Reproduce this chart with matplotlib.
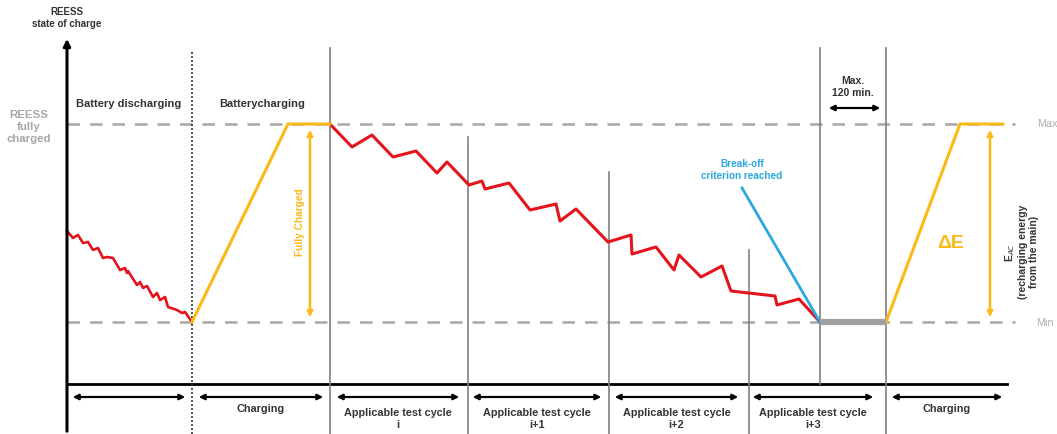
import numpy as np
import matplotlib.pyplot as plt

plt.rcParams['font.family'] = ['Liberation Sans', 'DejaVu Sans']

# levels (picture units, y grows downward)
y_max = 124
y_min = 322

# battery discharging trace
dis_x = [67, 73, 78, 83, 88, 93, 98, 103, 107, 113, 120, 125, 127, 128, 137, 140, 143, 147,
         153, 157, 160, 165, 168, 177, 182, 185, 192]
dis_y = [231, 238, 235, 243, 242, 250, 248, 258, 257, 258, 270, 268, 273, 271, 285, 282, 288, 286,
         297, 293, 300, 297, 307, 310, 313, 312, 322]

# first charge
chg1_x = [192, 288, 330]
chg1_y = [322, 124, 124]

# test cycles trace
cyc_x = [330, 352, 372, 393, 416, 437, 447, 469, 482, 485, 509, 530, 556, 560, 576, 608, 631, 632,
         656, 674, 679, 701, 722, 731, 775, 777, 799, 820]
cyc_y = [124, 147, 135, 157, 151, 173, 162, 185, 181, 189, 183, 210, 204, 221, 209, 242, 235, 254,
         247, 270, 255, 277, 266, 291, 296, 305, 299, 322]

# break-off line
brk_x = [742, 820]
brk_y = [188, 322]

# second charge
chg2_x = [886, 960, 1003]
chg2_y = [322, 124, 124]

# vertical separators: x, top
sep_x = [330, 468, 609, 749, 820, 886]
sep_top = [48, 137, 172, 250, 48, 48]

# bottom phase arrows
phase_x0 = [70, 196, 334, 470, 612, 750, 889]
phase_x1 = [188, 326, 462, 604, 741, 876, 1005]
phase_lbl = ["", "Charging", "Applicable test cycle\ni", "Applicable test cycle\ni+1",
             "Applicable test cycle\ni+2", "Applicable test cycle\ni+3", "Charging"]

red = '#E3141B'
yel = '#FBB917'
blue = '#2BA8DE'
grey = '#A6A6A6'

fig = plt.figure(figsize=(10.57, 4.34), dpi=100)
ax = fig.add_axes([0, 0, 1, 1])
ax.set_xlim(0, 1057)
ax.set_ylim(434, 0)
ax.axis('off')

# dashed max/min
ax.plot([67, 1015], [y_max, y_max], color=grey, lw=1.8, dashes=(5, 4))
ax.plot([67, 1015], [y_min, y_min], color=grey, lw=1.8, dashes=(5, 4))

# y axis with arrow
ax.annotate('', xy=(67, 36), xytext=(67, 434),
            arrowprops=dict(arrowstyle='-|>', color='black', lw=2.2, mutation_scale=10))
# time axis line
ax.plot([67, 1007], [384, 384], color='black', lw=2)

# dotted separator
ax.plot([192, 192], [52, 434], color='#333333', lw=1.2, ls=(0, (1.2, 1.2)))
for x, t in zip(sep_x, sep_top):
    bot = 384 if x == 820 else 434
    ax.plot([x, x], [t, bot], color='#808080', lw=1.2)

# traces
ax.plot(dis_x, dis_y, color=red, lw=1.9)
ax.plot(cyc_x, cyc_y, color=red, lw=2.2)
ax.plot(chg1_x, chg1_y, color=yel, lw=2.2)
ax.plot(chg2_x, chg2_y, color=yel, lw=2.2)
ax.plot(brk_x, brk_y, color=blue, lw=2)
ax.plot([820, 886], [y_min, y_min], color='#A0A0A0', lw=4.5, solid_capstyle='butt')

# yellow double arrows
for x in [310, 990]:
    ax.annotate('', xy=(x, 127), xytext=(x, 320),
                arrowprops=dict(arrowstyle='<|-|>', color=yel, lw=1.8, mutation_scale=8))

# phase arrows
for x0, x1, lbl in zip(phase_x0, phase_x1, phase_lbl):
    ax.annotate('', xy=(x0, 397), xytext=(x1, 397),
                arrowprops=dict(arrowstyle='<|-|>', color='black', lw=1.6, mutation_scale=8))
    if lbl:
        yy = 409 if '\n' not in lbl else 419
        ax.text((x0 + x1) / 2, yy, lbl, ha='center', va='center', fontsize=7.8,
                fontweight='bold', color='#333333', linespacing=1.15)

# max 120 min
ax.annotate('', xy=(826, 108), xytext=(883, 108),
            arrowprops=dict(arrowstyle='<|-|>', color='black', lw=1.6, mutation_scale=8))
ax.text(853, 87, "Max.\n120 min.", ha='center', va='center', fontsize=7.5,
        fontweight='bold', color='#333333', linespacing=1.35)

# texts
ax.text(67, 18, "REESS\nstate of charge", ha='center', va='center', fontsize=7,
        fontweight='bold', color='#333333', linespacing=1.35)
ax.text(29, 127, "REESS\nfully\ncharged", ha='center', va='center', fontsize=8.2,
        fontweight='bold', color='#A6A6A6', linespacing=1.3)
ax.text(129, 104, "Battery discharging", ha='center', va='center', fontsize=8,
        fontweight='bold', color='#333333')
ax.text(262, 104, "Batterycharging", ha='center', va='center', fontsize=8,
        fontweight='bold', color='#333333')
ax.text(300, 222, "Fully Charged", ha='center', va='center', fontsize=7.3,
        fontweight='bold', color=yel, rotation=90)
ax.text(742, 170, "Break-off\ncriterion reached", ha='center', va='center', fontsize=7.2,
        fontweight='bold', color=blue, linespacing=1.25)
ax.text(951, 243, "ΔE", ha='center', va='center', fontsize=14,
        fontweight='bold', color=yel)
ax.text(1021, 252, "E$_{AC}$\n(recharging energy\nfrom the main)", ha='center', va='center',
        fontsize=7.5, fontweight='bold', color='#333333', rotation=90, linespacing=1.15)
ax.text(1047, 124, "Max", ha='center', va='center', fontsize=7.8, color='#B0B0B0')
ax.text(1045, 323, "Min", ha='center', va='center', fontsize=7.8, color='#B0B0B0')

fig.savefig('out.png', dpi=100)
